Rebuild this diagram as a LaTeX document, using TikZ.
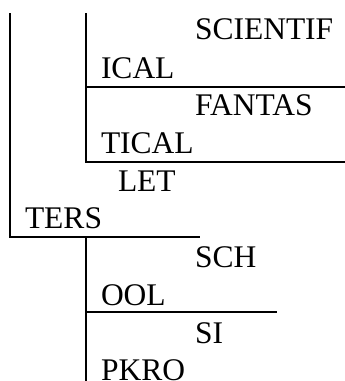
\documentclass[tikz,border=0pt]{standalone}
\usepackage{fontspec}
\setmainfont{Liberation Serif}
\begin{document}
\begin{tikzpicture}[x=1pt,y=-1pt,
  rule/.style={line width=2.2pt,black},
  lbl/.style={anchor=base west,inner sep=0pt,outer sep=0pt,font=\fontsize{31.5}{36}\selectfont}]
\useasboundingbox (0,0) rectangle (345,381);
% coordinates
\coordinate (l1t) at (10,13);
\coordinate (l1b) at (10,237);
\coordinate (hbr) at (200,237);
\coordinate (l2t) at (86,13);
\coordinate (l2b) at (86,162);
\coordinate (h1l) at (86,87);
\coordinate (h1r) at (345,87);
\coordinate (h2r) at (345,162);
\coordinate (l3t) at (86,237);
\coordinate (l3b) at (86,381);
\coordinate (h3l) at (86,312);
\coordinate (h3r) at (277,312);
% rules
\draw[rule] (l1t) -- (l1b) -- (hbr);
\draw[rule] (l2t) -- (l2b) -- (h2r);
\draw[rule] (h1l) -- (h1r);
\draw[rule] (l3t) -- (l3b);
\draw[rule] (h3l) -- (h3r);
% labels
\node[lbl] (t1) at (195,39) {SCIENTIF};
\node[lbl] (t2) at (101,78) {ICAL};
\node[lbl] (t3) at (195,115) {FANTAS};
\node[lbl] (t4) at (101,153) {TICAL};
\node[lbl] (t5) at (118,191) {LET};
\node[lbl] (t6) at (25,228) {TERS};
\node[lbl] (t7) at (195,267) {SCH};
\node[lbl] (t8) at (101,305) {OOL};
\node[lbl] (t9) at (195,343) {SI};
\node[lbl] (t10) at (101,380) {PKRO};
\end{tikzpicture}
\end{document}
